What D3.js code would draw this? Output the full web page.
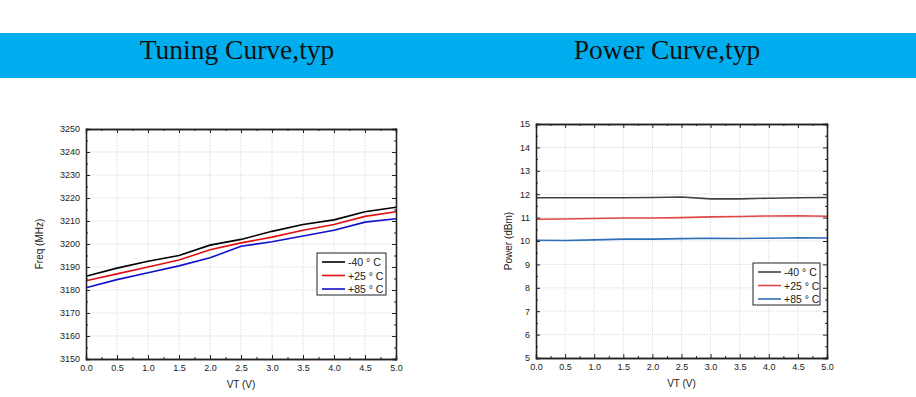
<!DOCTYPE html>
<html>
<head>
<meta charset="utf-8">
<script src="https://cdn.jsdelivr.net/npm/d3@7"></script>
<style>
body { margin: 0; background: #fff; }
svg { display: block; font-family: Arial, "Liberation Sans", sans-serif; }
</style>
</head>
<body>
<script>
// shared x values (VT, volts)
var vt = [0, 0.5, 1.0, 1.5, 2.0, 2.5, 3.0, 3.5, 4.0, 4.5, 5.0];
var tempLabels = ['-40 \u00b0 C', '+25 \u00b0 C', '+85 \u00b0 C'];

// tuning curve, MHz
var freqM40 = [3186, 3189.5, 3192.5, 3195, 3199.5, 3202, 3205.5, 3208.5, 3210.5, 3214, 3216];
var freqP25 = [3184, 3187, 3190, 3193, 3197.5, 3200.5, 3203, 3206, 3208.5, 3212, 3214];
var freqP85 = [3181, 3184.5, 3187.5, 3190.5, 3194, 3199, 3201, 3203.5, 3206, 3209.5, 3211];

// power curve, dBm
var powM40 = [11.85, 11.85, 11.85, 11.85, 11.86, 11.88, 11.80, 11.80, 11.83, 11.85, 11.86];
var powP25 = [10.93, 10.94, 10.96, 10.98, 10.98, 11.0, 11.03, 11.05, 11.07, 11.08, 11.06];
var powP85 = [10.03, 10.02, 10.05, 10.08, 10.08, 10.1, 10.12, 10.11, 10.12, 10.14, 10.13];

var titles = ['Tuning Curve,typ', 'Power Curve,typ'];

var W = 916, H = 397;
var svg = d3.select('body').append('svg').attr('width', W).attr('height', H);

// banner
svg.append('rect').attr('x', 0).attr('y', 33).attr('width', W).attr('height', 45).attr('fill', '#00aeef');
[[237, titles[0]], [667, titles[1]]].forEach(function(t){
    svg.append('text').attr('x', t[0]).attr('y', 59).attr('text-anchor', 'middle')
        .style('font-family', '"Liberation Serif", "Times New Roman", serif').style('font-size', '27.5px')
        .attr('fill', '#111').text(t[1]);
});

var drawChart = function(opt){
    var x = d3.scaleLinear().domain([0, 5]).range([opt.left, opt.right]);
    var y = d3.scaleLinear().domain(opt.yDomain).range([opt.bottom, opt.top]);
    var g = svg.append('g');

    var xMajor = d3.range(0, 5.001, 0.5);
    var xMinor = d3.range(0.25, 5, 0.5);
    var yMajor = d3.range(opt.yDomain[0], opt.yDomain[1] + 0.001, opt.yStep);
    var yMinor = d3.range(opt.yDomain[0] + opt.yStep / 2, opt.yDomain[1], opt.yStep);

    // grid
    g.selectAll('.gx').data(xMajor.slice(1, -1)).enter().append('line')
        .attr('x1', function(d){ return x(d); }).attr('x2', function(d){ return x(d); })
        .attr('y1', opt.top).attr('y2', opt.bottom)
        .attr('stroke', '#cfcfcf').attr('stroke-width', 0.8).attr('stroke-dasharray', '1,1');
    g.selectAll('.gy').data(yMajor.slice(1, -1)).enter().append('line')
        .attr('y1', function(d){ return y(d); }).attr('y2', function(d){ return y(d); })
        .attr('x1', opt.left).attr('x2', opt.right)
        .attr('stroke', '#cfcfcf').attr('stroke-width', 0.8).attr('stroke-dasharray', '1,1');

    // series
    var line = d3.line().x(function(d){ return x(d[0]); }).y(function(d){ return y(d[1]); });
    opt.series.forEach(function(s, i){
        g.append('path').datum(d3.zip(vt, s))
            .attr('d', line).attr('fill', 'none')
            .attr('stroke', opt.colors[i]).attr('stroke-width', 1.6);
    });

    // axes (ticks inward, all four sides)
    var bottomAx = d3.axisBottom(x).tickValues(xMajor).tickSize(-4).tickPadding(6).tickFormat(d3.format('.1f'));
    var topAx = d3.axisTop(x).tickValues(xMajor).tickSize(-4).tickFormat('');
    var leftAx = d3.axisLeft(y).tickValues(yMajor).tickSize(-4).tickPadding(6).tickFormat(d3.format('d'));
    var rightAx = d3.axisRight(y).tickValues(yMajor).tickSize(-4).tickFormat('');

    g.append('g').attr('transform', 'translate(0,' + opt.bottom + ')').call(bottomAx);
    g.append('g').attr('transform', 'translate(0,' + opt.top + ')').call(topAx);
    g.append('g').attr('transform', 'translate(' + opt.left + ',0)').call(leftAx);
    g.append('g').attr('transform', 'translate(' + opt.right + ',0)').call(rightAx);
    g.append('g').attr('transform', 'translate(0,' + opt.bottom + ')')
        .call(d3.axisBottom(x).tickValues(xMinor).tickSize(-2).tickFormat(''));
    g.append('g').attr('transform', 'translate(0,' + opt.top + ')')
        .call(d3.axisTop(x).tickValues(xMinor).tickSize(-2).tickFormat(''));
    g.append('g').attr('transform', 'translate(' + opt.left + ',0)')
        .call(d3.axisLeft(y).tickValues(yMinor).tickSize(-2).tickFormat(''));
    g.append('g').attr('transform', 'translate(' + opt.right + ',0)')
        .call(d3.axisRight(y).tickValues(yMinor).tickSize(-2).tickFormat(''));

    g.selectAll('.domain').attr('stroke', '#222').attr('stroke-width', 1.3);
    g.selectAll('.tick line').attr('stroke', '#222');
    g.selectAll('.tick text').style('font-size', '9px').attr('fill', '#222')
        .style('font-family', 'Arial, "Liberation Sans", sans-serif');

    // axis titles
    g.append('text').attr('x', (opt.left + opt.right) / 2).attr('y', opt.bottom + 29)
        .attr('text-anchor', 'middle').style('font-size', '10px').attr('fill', '#222').text('VT (V)');
    g.append('text').attr('transform', 'translate(' + opt.yLabelX + ',' + ((opt.top + opt.bottom) / 2) + ') rotate(-90)')
        .attr('text-anchor', 'middle').style('font-size', '10px').attr('fill', '#222').text(opt.yLabel);

    // legend
    var lg = g.append('g').attr('transform', 'translate(' + opt.legend[0] + ',' + opt.legend[1] + ')');
    lg.append('rect').attr('width', opt.legend[2]).attr('height', 42)
        .attr('fill', '#fff').attr('stroke', '#222').attr('stroke-width', 1);
    tempLabels.forEach(function(t, i){
        var yy = 9 + i * 13.5;
        lg.append('line').attr('x1', 5).attr('x2', 28).attr('y1', yy).attr('y2', yy)
            .attr('stroke', opt.colors[i]).attr('stroke-width', 1.6);
        lg.append('text').attr('x', 31).attr('y', yy + 4).style('font-size', '10.5px')
            .attr('fill', '#222').text(t);
    });
};

drawChart({
    left: 86, right: 396, top: 129, bottom: 359,
    yDomain: [3150, 3250], yStep: 10,
    series: [freqM40, freqP25, freqP85],
    colors: ['#000000', '#e01010', '#1010c8'],
    yLabel: 'Freq (MHz)', yLabelX: 43,
    legend: [317, 253, 69]
});

drawChart({
    left: 536, right: 827, top: 124, bottom: 358,
    yDomain: [5, 15], yStep: 1,
    series: [powM40, powP25, powP85],
    colors: ['#444444', '#e04848', '#2e6fb8'],
    yLabel: 'Power (dBm)', yLabelX: 512,
    legend: [753, 263, 67]
});
</script>
</body>
</html>
